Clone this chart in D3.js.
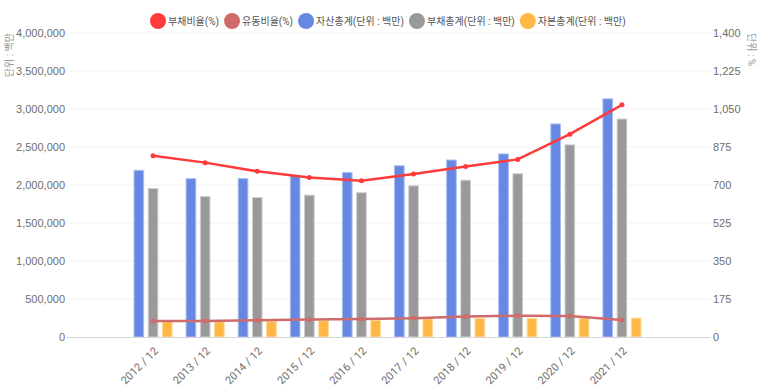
<!DOCTYPE html>
<html>
<head>
<meta charset="utf-8">
<script src="https://cdn.jsdelivr.net/npm/d3@7"></script>
<style>
  body { margin: 0; background: #fff; }
  svg { font-family: Roboto, 'Noto Sans CJK KR', sans-serif; }
</style>
</head>
<body>
<svg id="chart" width="773" height="390"></svg>
<script>
const years = ['2012 / 12', '2013 / 12', '2014 / 12', '2015 / 12', '2016 / 12',
  '2017 / 12', '2018 / 12', '2019 / 12', '2020 / 12', '2021 / 12'];
const assets = [2200000, 2090000, 2090000, 2130000, 2170000, 2260000, 2335000, 2415000, 2810000, 3140000];
const liabilities = [1960000, 1855000, 1842000, 1873000, 1905000, 1996000, 2070000, 2155000, 2535000, 2875000];
const equity = [205000, 205000, 210000, 220000, 225000, 245000, 250000, 250000, 250000, 255000];
const debtRatio = [835, 803, 763, 735, 720, 751, 785, 818, 934, 1069];
const currentRatio = [74, 74, 77, 81, 83, 86, 94, 98, 97, 78];
const leftTicks = d3.range(0, 4000001, 500000);
const rightTicks = d3.range(0, 1401, 175);

const barSeries = [
  { name: '자산총계(단위 : 백만)', values: assets, color: '#6687e2', stroke: '#a9bdf2' },
  { name: '부채총계(단위 : 백만)', values: liabilities, color: '#999999', stroke: '#cfcfcf' },
  { name: '자본총계(단위 : 백만)', values: equity, color: '#ffb846', stroke: '#ffd89a' }
];
const lineSeries = [
  { name: '부채비율(%)', values: debtRatio, color: '#ff3b3b' },
  { name: '유동비율(%)', values: currentRatio, color: '#cf6b6b' }
];

const svg = d3.select('#chart');
const plot = { left: 70, right: 710, top: 33, bottom: 337 };

const yLeft = d3.scaleLinear().domain([0, 4000000]).range([plot.bottom, plot.top]);
const yRight = d3.scaleLinear().domain([0, 1400]).range([plot.bottom, plot.top]);
const x = d3.scaleBand().domain(years).range([127, 648]);
const xSub = d3.scaleBand().domain(d3.range(barSeries.length)).range([0, x.bandwidth() * 0.75]).paddingInner(0.25);
const groupOffset = x.bandwidth() * 0.125;

// grid
svg.append('g').selectAll('line').data(leftTicks.slice(1)).join('line')
  .attr('x1', plot.left).attr('x2', plot.right)
  .attr('y1', d => yLeft(d)).attr('y2', d => yLeft(d))
  .attr('stroke', '#f2f2f2');

// left axis labels
const leftAxis = svg.append('g')
  .attr('transform', `translate(${plot.left},0)`)
  .call(d3.axisLeft(yLeft).tickValues(leftTicks).tickFormat(d3.format(',')).tickSize(0).tickPadding(5));
leftAxis.select('.domain').remove();
leftAxis.selectAll('text').attr('fill', '#6e6e6e').style('font-size', '11px');

const rightAxis = svg.append('g')
  .attr('transform', `translate(${plot.right},0)`)
  .call(d3.axisRight(yRight).tickValues(rightTicks).tickFormat(d3.format(',')).tickSize(0).tickPadding(3));
rightAxis.select('.domain').remove();
rightAxis.selectAll('text').attr('fill', '#6e6e6e').style('font-size', '11px');

// axis titles
svg.append('text')
  .attr('transform', `translate(13, ${plot.top}) rotate(-90)`)
  .attr('text-anchor', 'end')
  .attr('fill', '#999').style('font-size', '10px')
  .text('단위 : 백만');
svg.append('text')
  .attr('transform', `translate(748, ${plot.top}) rotate(90)`)
  .attr('text-anchor', 'start')
  .attr('fill', '#999').style('font-size', '10px')
  .text('단위 : %');

// bars
const groups = svg.append('g').selectAll('g').data(years).join('g')
  .attr('transform', d => `translate(${x(d) + groupOffset},0)`);
groups.selectAll('rect').data((d, i) => barSeries.map((s, k) => ({ k, v: s.values[i], s })))
  .join('rect')
  .attr('x', d => xSub(d.k) + 0.5)
  .attr('width', xSub.bandwidth() - 1)
  .attr('y', d => yLeft(d.v) + 0.5)
  .attr('height', d => yLeft(0) - yLeft(d.v) - 0.5)
  .attr('fill', d => d.s.color)
  .attr('stroke', d => d.s.stroke)
  .attr('stroke-width', 1);

// baseline
svg.append('line')
  .attr('x1', plot.left - 3).attr('x2', plot.right)
  .attr('y1', plot.bottom + 0.5).attr('y2', plot.bottom + 0.5)
  .attr('stroke', '#d6d6d6');

// x labels
svg.append('g').selectAll('text').data(years).join('text')
  .attr('transform', d => `translate(${x(d) + x.bandwidth() / 2 + 3},${plot.bottom + 12}) rotate(-45)`)
  .attr('text-anchor', 'end')
  .attr('dy', '0.35em')
  .attr('fill', '#6e6e6e').style('font-size', '11px')
  .text(d => d);

// lines
const line = d3.line()
  .x((d, i) => x(years[i]) + x.bandwidth() / 2)
  .y(d => yRight(d));
lineSeries.slice().reverse().forEach(s => {
  const g = svg.append('g');
  g.append('path').datum(s.values)
    .attr('d', line)
    .attr('fill', 'none')
    .attr('stroke', s.color)
    .attr('stroke-width', 2.5);
  g.selectAll('circle').data(s.values).join('circle')
    .attr('cx', (d, i) => x(years[i]) + x.bandwidth() / 2)
    .attr('cy', d => yRight(d))
    .attr('r', 2.5)
    .attr('fill', s.color);
});

// legend
const legendItems = [...lineSeries, ...barSeries];
const legend = svg.append('g').attr('transform', 'translate(0,21)');
let lx = 150;
legendItems.forEach(s => {
  const item = legend.append('g').attr('transform', `translate(${lx},0)`);
  item.append('circle').attr('cx', 8).attr('cy', 0).attr('r', 8).attr('fill', s.color);
  const t = item.append('text').attr('x', 18).attr('dy', '0.35em')
    .attr('fill', '#555').style('font-size', '10px').text(s.name);
  lx += 18 + t.node().getComputedTextLength() + 5;
});
</script>
</body>
</html>
